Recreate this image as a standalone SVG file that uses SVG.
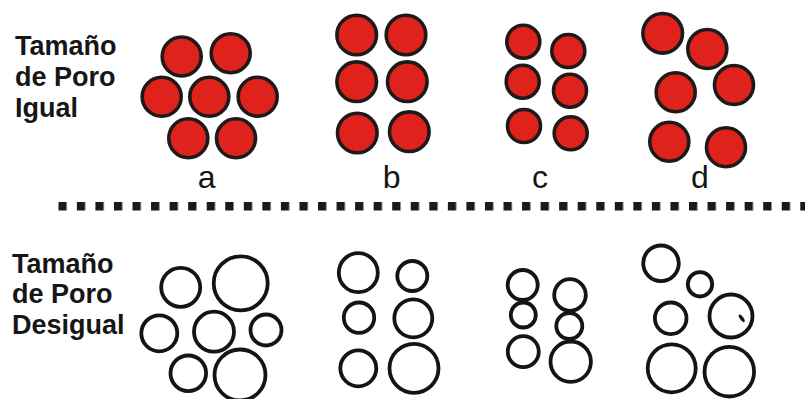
<svg xmlns="http://www.w3.org/2000/svg" width="805" height="399" viewBox="0 0 805 399">
<style>
.lbl{font-family:"Liberation Sans",Arial,sans-serif;font-weight:bold;font-size:27px;fill:#161616}
.let{font-family:"Liberation Sans",Arial,sans-serif;font-size:32px;fill:#161616;text-anchor:middle}
.r{fill:#df221c;stroke:#1e1a1a;stroke-width:3.6}
.o{fill:none;stroke:#141414;stroke-width:3.8}
.sq{fill:#1a1a1a}
</style>
<defs>
<pattern id="dash" x="58.3" y="202" width="18.55" height="9" patternUnits="userSpaceOnUse">
<rect class="sq" x="0" y="0" width="8.3" height="8.5"/>
</pattern>
</defs>
<rect width="805" height="399" fill="#ffffff"/>
<g id="title-equal">
<text class="lbl" x="15" y="55">Tamaño</text>
<text class="lbl" x="15" y="86">de Poro</text>
<text class="lbl" x="15" y="117">Igual</text>
</g>
<g id="title-unequal">
<text class="lbl" x="12" y="273">Tamaño</text>
<text class="lbl" x="12" y="303">de Poro</text>
<text class="lbl" x="12" y="334">Desigual</text>
</g>
<g id="divider">
<rect x="58.3" y="202" width="747" height="9" fill="url(#dash)"/>
</g>
<g id="equal-a">
<circle class="r" cx="181.7" cy="56.5" r="19.5"/>
<circle class="r" cx="230.7" cy="53.3" r="19.5"/>
<circle class="r" cx="161.7" cy="96.7" r="19.5"/>
<circle class="r" cx="209.3" cy="96.7" r="19.5"/>
<circle class="r" cx="257.7" cy="96.7" r="19.5"/>
<circle class="r" cx="188.3" cy="138.3" r="19.5"/>
<circle class="r" cx="236" cy="138.3" r="19.5"/>
<text class="let" x="206.7" y="188">a</text>
</g>
<g id="equal-b">
<circle class="r" cx="356.7" cy="35" r="19.8"/>
<circle class="r" cx="406" cy="35" r="19.8"/>
<circle class="r" cx="356.7" cy="81.7" r="19.8"/>
<circle class="r" cx="407.3" cy="81.7" r="19.8"/>
<circle class="r" cx="357.3" cy="133" r="19.8"/>
<circle class="r" cx="409.3" cy="131.7" r="19.8"/>
<text class="let" x="391.7" y="188">b</text>
</g>
<g id="equal-c">
<circle class="r" cx="523.3" cy="41.7" r="16.5"/>
<circle class="r" cx="568.3" cy="51" r="16.5"/>
<circle class="r" cx="522.7" cy="81.7" r="16.5"/>
<circle class="r" cx="570" cy="90.7" r="16.5"/>
<circle class="r" cx="524" cy="126" r="16.5"/>
<circle class="r" cx="570.7" cy="133.3" r="16.5"/>
<text class="let" x="540" y="188">c</text>
</g>
<g id="equal-d">
<circle class="r" cx="662.7" cy="33.3" r="19.8"/>
<circle class="r" cx="707.3" cy="49" r="19.5"/>
<circle class="r" cx="675.7" cy="92.3" r="19.5"/>
<circle class="r" cx="734" cy="85" r="19.5"/>
<circle class="r" cx="669.3" cy="141.7" r="19.5"/>
<circle class="r" cx="726" cy="147.3" r="19.5"/>
<text class="let" x="700" y="188">d</text>
</g>
<g id="unequal-a">
<circle class="o" cx="180.7" cy="287.3" r="19.5"/>
<circle class="o" cx="240.7" cy="283.3" r="27"/>
<circle class="o" cx="159.3" cy="333.3" r="18"/>
<circle class="o" cx="214" cy="331.7" r="20"/>
<circle class="o" cx="266" cy="330" r="15.5"/>
<circle class="o" cx="188.3" cy="373.3" r="17.8"/>
<circle class="o" cx="240" cy="375" r="25.5"/>
</g>
<g id="unequal-b">
<circle class="o" cx="358.3" cy="272.7" r="19.5"/>
<circle class="o" cx="412.3" cy="276" r="15"/>
<circle class="o" cx="359" cy="317.7" r="15.2"/>
<circle class="o" cx="413.3" cy="318.3" r="19"/>
<circle class="o" cx="358.3" cy="368.3" r="18"/>
<circle class="o" cx="414" cy="368.3" r="24.5"/>
</g>
<g id="unequal-c">
<circle class="o" cx="522.7" cy="285" r="15"/>
<circle class="o" cx="523.3" cy="315" r="12.5"/>
<circle class="o" cx="523.3" cy="351.7" r="15.5"/>
<circle class="o" cx="570" cy="295" r="15.8"/>
<circle class="o" cx="569.3" cy="326" r="13"/>
<circle class="o" cx="570.7" cy="361.7" r="20.2"/>
</g>
<g id="unequal-d">
<circle class="o" cx="661" cy="263.3" r="17.8"/>
<circle class="o" cx="700" cy="284.3" r="12.2"/>
<circle class="o" cx="670.7" cy="318.3" r="15.8"/>
<circle class="o" cx="731" cy="316" r="21.5"/>
<ellipse cx="741.7" cy="318.3" rx="1.8" ry="4.5" transform="rotate(-35 741.7 318.3)" fill="#141414"/>
<circle class="o" cx="671.7" cy="368.3" r="24"/>
<circle class="o" cx="729.3" cy="371.7" r="24.8"/>
</g>
</svg>
